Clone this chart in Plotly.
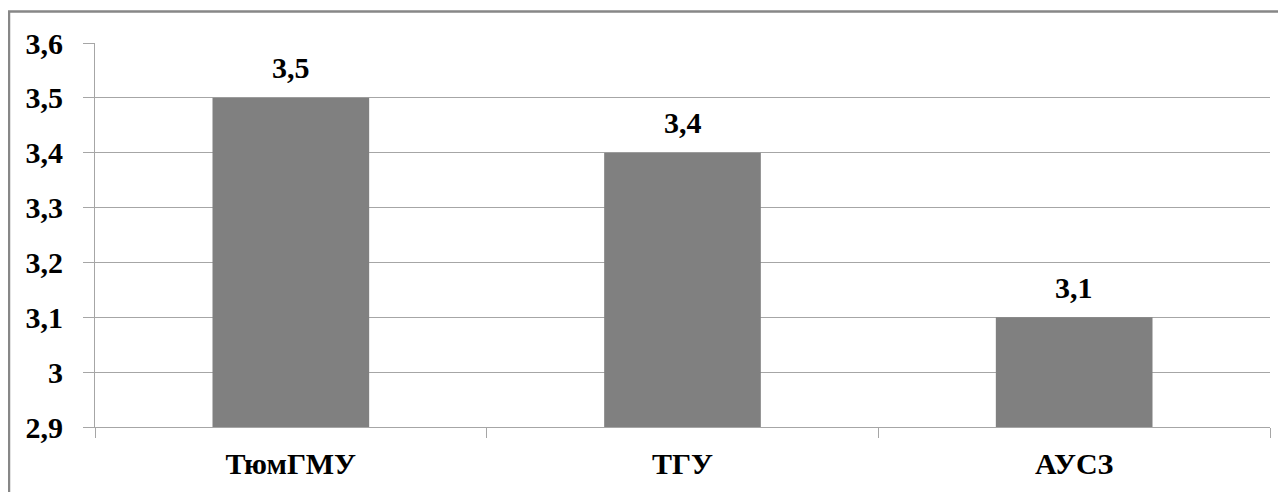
import plotly.graph_objects as go

categories = ["ТюмГМУ", "ТГУ", "АУСЗ"]
values = [3.5, 3.4, 3.1]
value_labels = ["3,5", "3,4", "3,1"]
y_ticks = [2.9, 3.0, 3.1, 3.2, 3.3, 3.4, 3.5, 3.6]
y_tick_labels = ["2,9", "3", "3,1", "3,2", "3,3", "3,4", "3,5", "3,6"]
axis_min = 2.9

FONT = "Liberation Serif"
GRID = "#a6a6a6"

fig = go.Figure()
fig.add_trace(go.Bar(
    x=categories, y=[v - axis_min for v in values], base=axis_min,
    marker=dict(color="#808080", line=dict(width=0)),
    width=0.4,
    hoverinfo="skip",
))

for c, v, t in zip(categories, values, value_labels):
    fig.add_annotation(x=c, y=v, text=f"<b>{t}</b>", showarrow=False,
                       yanchor="middle", yshift=30,
                       font=dict(family=FONT, size=30, color="black"))

fig.add_shape(type="rect", xref="paper", yref="paper",
              x0=-0.0732, x1=1.02, y0=-0.2, y1=1.0819,
              line=dict(color="#878787", width=2.5), fillcolor="rgba(0,0,0,0)",
              layer="below")

fig.update_layout(
    width=1278, height=484,
    margin=dict(l=87, r=16, t=34.5, b=65),
    paper_bgcolor="white", plot_bgcolor="white",
    showlegend=False,
)
fig.update_yaxes(
    range=[2.9, 3.6], tickvals=y_ticks,
    ticktext=[f"<b>{t}</b>" for t in y_tick_labels],
    showgrid=True, gridcolor=GRID, gridwidth=1,
    showline=True, linecolor=GRID, linewidth=1,
    ticks="outside", ticklen=11, tickcolor=GRID,
    ticklabelstandoff=14, automargin=False,
    tickfont=dict(family=FONT, size=30, color="black"),
    zeroline=False,
)
fig.update_xaxes(
    tickvals=categories, ticktext=[f"<b>{c}</b>" for c in categories],
    showline=True, linecolor=GRID, linewidth=1,
    ticks="outside", ticklen=10, tickcolor=GRID, tickson="boundaries",
    ticklabelstandoff=10, automargin=False,
    tickfont=dict(family=FONT, size=30, color="black"),
    showgrid=False,
)

fig.write_html("out.html")
